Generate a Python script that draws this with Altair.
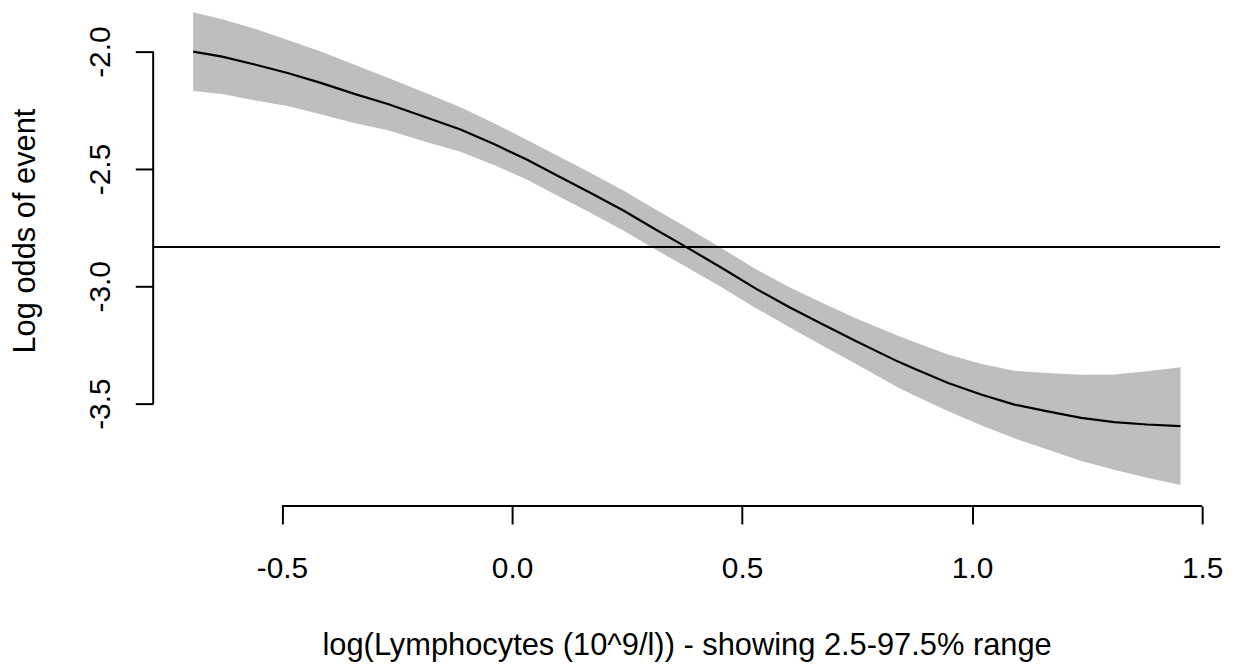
import altair as alt
import pandas as pd

# ---- data ----
x_vals = [-0.693, -0.630, -0.557, -0.486, -0.414, -0.341, -0.270, -0.183, -0.112, -0.038,
          0.033, 0.098, 0.169, 0.243, 0.314, 0.379, 0.459, 0.530, 0.602, 0.675,
          0.746, 0.839, 0.876, 0.948, 1.021, 1.092, 1.164, 1.237, 1.309, 1.380, 1.453]
fit = [-2.000, -2.021, -2.056, -2.092, -2.134, -2.181, -2.223, -2.283, -2.332, -2.395,
       -2.461, -2.528, -2.600, -2.678, -2.760, -2.833, -2.925, -3.010, -3.088, -3.162,
       -3.232, -3.321, -3.352, -3.412, -3.462, -3.504, -3.533, -3.561, -3.579, -3.589, -3.596]
upper = [-1.832, -1.862, -1.904, -1.951, -2.000, -2.057, -2.111, -2.179, -2.237, -2.306,
         -2.376, -2.443, -2.515, -2.593, -2.675, -2.748, -2.842, -2.927, -3.003, -3.071,
         -3.135, -3.211, -3.238, -3.291, -3.331, -3.360, -3.370, -3.377, -3.376, -3.362, -3.345]
lower = [-2.168, -2.180, -2.208, -2.233, -2.268, -2.305, -2.335, -2.387, -2.427, -2.484,
         -2.546, -2.613, -2.685, -2.763, -2.845, -2.918, -3.008, -3.093, -3.173, -3.253,
         -3.329, -3.431, -3.466, -3.533, -3.593, -3.648, -3.696, -3.745, -3.782, -3.816, -3.847]
ref_level = [-2.833]
x_ticks = [-0.5, 0.0, 0.5, 1.0, 1.5]
y_ticks = [-2.0, -2.5, -3.0, -3.5]
x_title = "log(Lymphocytes (10^9/l)) - showing 2.5-97.5% range"
y_title = "Log odds of event"

W, H = 1073, 499
FONT = "Liberation Sans"
LW = 2
LABEL_EXPR = "replace(format(datum.value, '.1f'), '\u2212', '-')"

df = pd.DataFrame({"x": x_vals, "fit": fit, "lower": lower, "upper": upper})
xscale = alt.Scale(domain=[-0.78, 1.539], nice=False, zero=False)
yscale = alt.Scale(domain=[-3.9364, -1.822], nice=False, zero=False)

x_axis = alt.Axis(values=x_ticks, labelExpr=LABEL_EXPR, domain=False, grid=False,
                  tickSize=18, tickColor="black", tickWidth=LW,
                  labelFont=FONT, labelFontSize=30, labelColor="black", labelPadding=30,
                  labelFlush=False, labelOverlap=False,
                  title=x_title, titleFont=FONT, titleFontSize=31, titleFontWeight="normal",
                  titleColor="black", titleBaseline="alphabetic", titleY=149, titleX=W / 2,
                  titleAlign="center")
y_axis = alt.Axis(values=y_ticks, labelExpr=LABEL_EXPR, domain=False, grid=False,
                  tickSize=18, tickColor="black", tickWidth=LW,
                  labelFont=FONT, labelFontSize=30, labelColor="black", labelPadding=26,
                  labelAngle=270, labelAlign="center", labelBaseline="alphabetic",
                  labelFlush=False, labelOverlap=False,
                  title=y_title, titleFont=FONT, titleFontSize=31, titleFontWeight="normal",
                  titleColor="black", titleAngle=270, titleBaseline="alphabetic",
                  titleAlign="center", titleX=-119, titleY=222)

band = alt.Chart(df).mark_area(color="#BEBEBE", opacity=1).encode(
    x=alt.X("x:Q", scale=xscale, axis=x_axis),
    y=alt.Y("lower:Q", scale=yscale, axis=y_axis),
    y2="upper:Q",
)
line = alt.Chart(df).mark_line(color="black", strokeWidth=2.2).encode(
    x=alt.X("x:Q", scale=xscale),
    y=alt.Y("fit:Q", scale=yscale),
)
hline = alt.Chart(pd.DataFrame({"y": ref_level})).mark_rule(color="black", strokeWidth=LW).encode(
    y=alt.Y("y:Q", scale=yscale),
)
xdom = alt.Chart(pd.DataFrame({"a": [min(x_ticks)], "b": [max(x_ticks)]})).mark_rule(
    color="black", strokeWidth=LW).encode(
    x=alt.X("a:Q", scale=xscale), x2="b:Q", y=alt.value(H),
)
ydom = alt.Chart(pd.DataFrame({"a": [max(y_ticks)], "b": [min(y_ticks)]})).mark_rule(
    color="black", strokeWidth=LW).encode(
    y=alt.Y("a:Q", scale=yscale), y2="b:Q", x=alt.value(0),
)

chart = alt.layer(band, line, hline, xdom, ydom).properties(
    width=W, height=H,
    autosize=alt.AutoSizeParams(type="none"),
    padding={"left": 146, "top": 0, "right": 10, "bottom": 160},
    background="white",
).configure_view(stroke=None)

chart.save("out.html", embed_options={"renderer": "svg", "actions": False})
